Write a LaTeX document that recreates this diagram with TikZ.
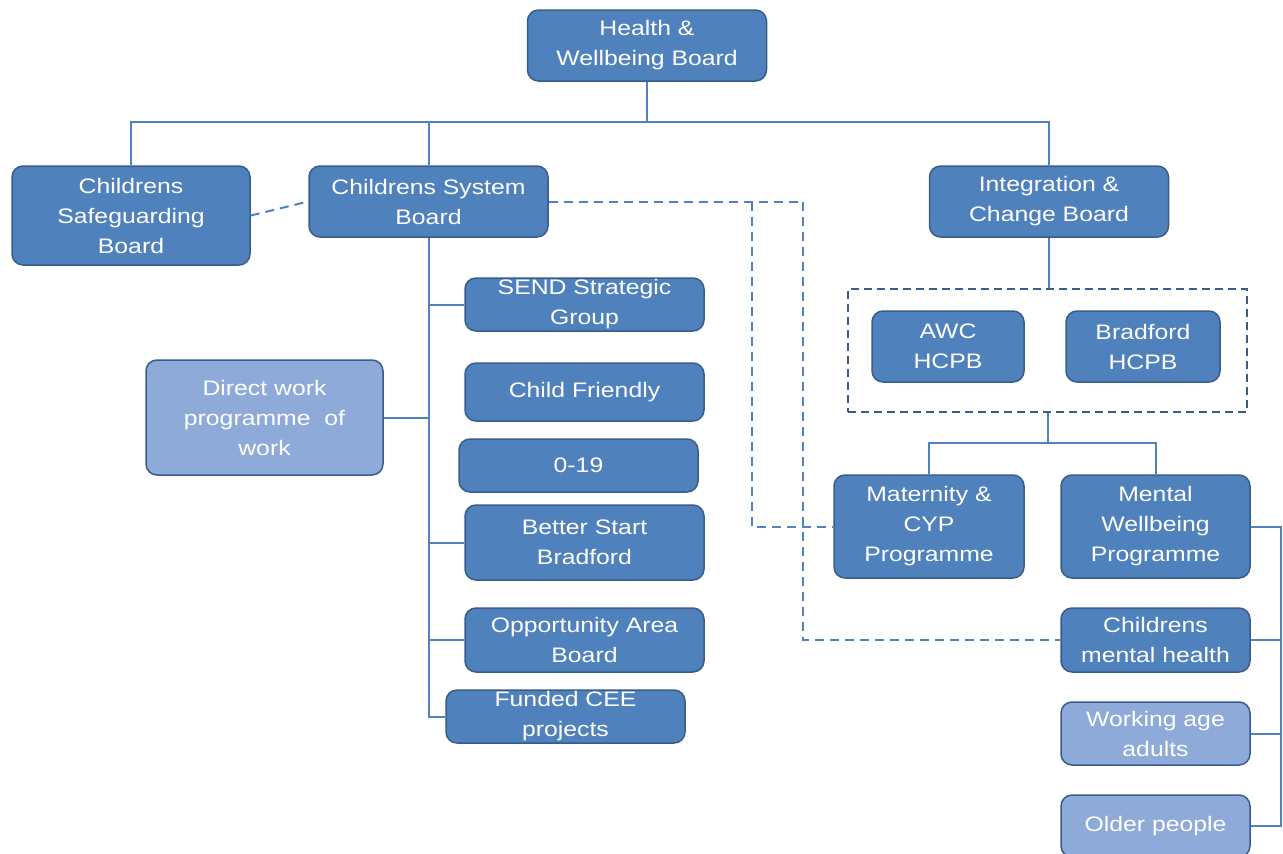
\documentclass[tikz,border=0pt]{standalone}
\usepackage{fontspec}
\setmainfont{Liberation Sans}[FakeStretch=1.18]
\definecolor{boxblue}{RGB}{79,129,189}
\definecolor{boxline}{RGB}{56,93,138}
\definecolor{lightblue}{RGB}{142,170,216}
\definecolor{linkblue}{RGB}{80,130,193}
\begin{document}
\begin{tikzpicture}[
            x=1pt, y=-1pt,
            every node/.style={font=\fontsize{21}{30}\selectfont},
            box/.style={rectangle, draw=boxline, line width=1.5pt, rounded corners=11pt, fill=boxblue, text=white, align=center, inner sep=0pt, minimum width=239pt, minimum height=71pt},
            lbox/.style={box, fill=lightblue},
            grpbox/.style={rectangle, draw=boxline, line width=1.5pt, dash pattern=on 8pt off 5pt, minimum width=399pt, minimum height=123pt},
            link/.style={draw=linkblue, line width=2pt},
            dlink/.style={link, dash pattern=on 9pt off 6pt}
        ]
        \useasboundingbox (0,0) rectangle (1283,854);

        \node[box] (hwb) at (647,45.5) {Health \&\\Wellbeing Board};
        \node[box, minimum width=238pt, minimum height=99pt] (safe) at (131,215.5) {Childrens\\Safeguarding\\Board};
        \node[box] (csys) at (428.5,201.5) {Childrens System\\Board};
        \node[box] (icb) at (1049,201.5) {Integration \&\\Change Board};

        \node[box, minimum height=53pt] (send) at (584.5,304.5) {SEND Strategic\\Group};
        \node[box, minimum height=58pt] (child) at (584.5,392) {Child Friendly};
        \node[box, minimum height=53pt] (zero) at (578.5,465.5) {0-19};
        \node[box, minimum height=75pt] (better) at (584.5,542.5) {Better Start\\Bradford};
        \node[box, minimum height=64pt] (opp) at (584.5,640) {Opportunity Area\\Board};
        \node[box, minimum height=53pt] (funded) at (565.5,716.5) {Funded CEE\\projects};
        \node[lbox, minimum width=237pt, minimum height=115pt] (direct) at (264.5,417.5) {Direct work\\programme\ \ of\\work};

        \node[grpbox] (grp) at (1047.5,350.5) {};
        \node[box, minimum width=152pt] (awc) at (948,346.5) {AWC\\HCPB};
        \node[box, minimum width=154pt] (bhcpb) at (1143,346.5) {Bradford\\HCPB};
        \node[box, minimum width=190pt, minimum height=103pt] (mat) at (929,526.5) {Maternity \&\\CYP\\Programme};
        \node[box, minimum width=189pt, minimum height=103pt] (mwp) at (1155.5,526.5) {Mental\\Wellbeing\\Programme};
        \node[box, minimum width=189pt, minimum height=64pt] (cmh) at (1155.5,640) {Childrens\\mental health};
        \node[lbox, minimum width=189pt, minimum height=63pt] (wage) at (1155.5,733.5) {Working age\\adults};
        \node[lbox, minimum width=189pt, minimum height=62pt] (older) at (1155.5,826) {Older people};

        \coordinate (topbus) at (647,122);
        \coordinate (progbus) at (1047.5,443);
        \coordinate (rightbus) at (1281,526.5);
        \coordinate (dleft) at (752,201.5);
        \coordinate (dright) at (803,201.5);

        % board level
        \draw[link] (hwb.south) -- (topbus);
        \draw[link] (safe.north) |- (topbus) -| (icb.north);
        \draw[link] (csys.north) -- (csys.north |- topbus);

        % childrens side
        \draw[link] (csys.south) |- (funded.west);
        \foreach \n in {send, better, opp}
            \draw[link] (\n.west) -- (\n.west -| csys.south);
        \draw[link] (direct.east) -- (direct.east -| csys.south);

        % dotted reporting lines
        \draw[dlink] (safe.east) -- (csys.west);
        \draw[dlink] (csys.east) -- (dright) |- (cmh.west);
        \draw[dlink] (dleft) |- (mat.west);

        % integration side
        \draw[link] (icb.south) -- (icb.south |- grp.north);
        \draw[link] (grp.south) -- (progbus);
        \draw[link] (mat.north) |- (progbus) -| (mwp.north);
        \draw[link] (mwp.east) -- (rightbus) |- (older.east);
        \foreach \n in {cmh, wage}
            \draw[link] (\n.east) -- (\n.east -| rightbus);

    \end{tikzpicture}
\end{document}
